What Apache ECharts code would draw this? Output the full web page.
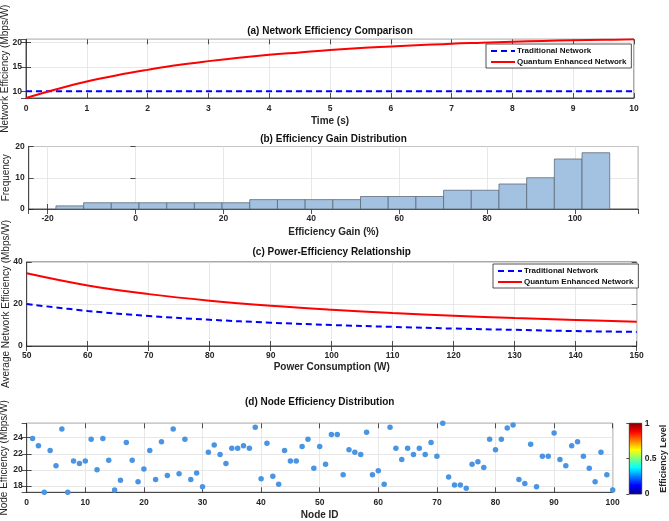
<!DOCTYPE html>
<html>
<head>
<meta charset="utf-8">
<script src="https://cdn.jsdelivr.net/npm/echarts@6/dist/echarts.min.js"></script>
<style>
  html, body { margin: 0; padding: 0; background: #fff; }
  #chart { width: 669px; height: 521px; }
</style>
</head>
<body>
<div id="chart"></div>
<script>
// (a) efficiency over time
var timeS = [0, 0.5, 1, 1.5, 2, 2.5, 3, 3.5, 4, 4.5, 5, 5.5, 6, 6.5, 7, 7.5, 8, 8.5, 9, 9.5, 10];
var tradEffA = [10, 10, 10, 10, 10, 10, 10, 10, 10, 10, 10, 10, 10, 10, 10, 10, 10, 10, 10, 10, 10];
var quantEffA = [8.6, 10.4, 12.0, 13.3, 14.4, 15.4, 16.2, 16.9, 17.5, 18.0, 18.5, 18.9, 19.2, 19.5, 19.8, 20.0, 20.2, 20.35, 20.5, 20.6, 20.7];

// (b) histogram of efficiency gain
var binEdges = [-18.1, -11.8, -5.5, 0.8, 7.1, 13.4, 19.7, 26.0, 32.3, 38.6, 44.9, 51.2, 57.5, 63.8, 70.1, 76.4, 82.7, 89.0, 95.3, 101.6, 107.9];
var binCounts = [1, 2, 2, 2, 2, 2, 2, 3, 3, 3, 3, 4, 4, 4, 6, 6, 8, 10, 16, 18];

// (c) efficiency vs power
var powerW = [50, 60, 70, 80, 90, 100, 110, 120, 130, 140, 150];
var tradEffC = [20.0, 16.7, 14.3, 12.5, 11.1, 10.0, 9.1, 8.3, 7.7, 7.1, 6.7];
var quantEffC = [34.6, 28.8, 24.7, 21.6, 19.2, 17.3, 15.7, 14.4, 13.3, 12.4, 11.5];

// (d) node efficiency
var nodeIds = [1, 2, 3, 4, 5, 6, 7, 8, 9, 10, 11, 12, 13, 14, 15, 16, 17, 18, 19, 20,
  21, 22, 23, 24, 25, 26, 27, 28, 29, 30, 31, 32, 33, 34, 35, 36, 37, 38, 39, 40,
  41, 42, 43, 44, 45, 46, 47, 48, 49, 50, 51, 52, 53, 54, 55, 56, 57, 58, 59, 60,
  61, 62, 63, 64, 65, 66, 67, 68, 69, 70, 71, 72, 73, 74, 75, 76, 77, 78, 79, 80,
  81, 82, 83, 84, 85, 86, 87, 88, 89, 90, 91, 92, 93, 94, 95, 96, 97, 98, 99, 100];
var nodeEff = [23.9, 23.0, 17.2, 22.4, 20.5, 25.1, 17.2, 21.1, 20.8, 21.1,
  23.8, 20.0, 23.9, 21.2, 17.5, 18.7, 23.4, 21.2, 18.5, 20.1,
  22.4, 18.8, 23.5, 19.3, 25.1, 19.5, 23.8, 18.8, 19.6, 17.9,
  22.2, 23.1, 21.9, 20.8, 22.7, 22.7, 23.0, 22.7, 25.3, 18.9,
  23.3, 19.2, 18.2, 22.4, 21.1, 21.1, 22.9, 23.8, 20.2, 22.9,
  20.7, 24.4, 24.4, 19.4, 22.5, 22.2, 21.9, 24.7, 19.4, 19.9,
  18.2, 25.3, 22.7, 21.3, 22.7, 21.9, 22.7, 21.9, 23.4, 21.7,
  25.8, 19.1, 18.1, 18.1, 17.7, 20.7, 21.0, 20.3, 23.8, 22.5,
  23.8, 25.2, 25.6, 18.8, 18.3, 23.2, 17.9, 21.7, 21.7, 24.6,
  21.3, 20.5, 23.0, 23.5, 21.7, 20.2, 18.5, 22.2, 19.4, 17.5];

var FONT = '"Liberation Sans", Arial, sans-serif';
var INK = '#262626';
var GRIDC = '#e2e2e2';

function pairs(xs, ys) {
  return xs.map(function (x, i) { return [x, ys[i]]; });
}

function onlyMultiples(step) {
  return function (v) {
    var r = Math.round(v / step) * step;
    return Math.abs(v - r) < 1e-6 ? String(r) : '';
  };
}

function tickLabel(margin, extra) {
  return Object.assign({ color: INK, fontFamily: FONT, fontSize: 8.5, fontWeight: 'bold', margin: margin,
    showMinLabel: false, showMaxLabel: false }, extra || {});
}

function xAxis(gi, o) {
  return Object.assign({
    type: 'value', gridIndex: gi, position: 'bottom',
    axisLine: { show: true, onZero: false, lineStyle: { color: INK, width: 0.8 } },
    axisTick: { show: true, inside: true, length: 5, lineStyle: { color: INK, width: 0.8 } },
    axisLabel: tickLabel(6),
    splitLine: { show: true, lineStyle: { color: GRIDC, width: 0.8 } },
    nameLocation: 'middle', nameMoveOverlap: false,
    nameTextStyle: { color: INK, fontFamily: FONT, fontSize: 10, fontWeight: 'bold' }
  }, o);
}

function yAxis(gi, o) {
  return Object.assign({
    type: 'value', gridIndex: gi, position: 'left',
    axisLine: { show: true, onZero: false, lineStyle: { color: INK, width: 0.8 } },
    axisTick: { show: true, inside: true, length: 5, lineStyle: { color: INK, width: 0.8 } },
    axisLabel: tickLabel(4),
    splitLine: { show: true, lineStyle: { color: GRIDC, width: 0.8 } },
    nameLocation: 'middle', nameRotate: 90, nameMoveOverlap: false,
    nameTextStyle: { color: INK, fontFamily: FONT, fontSize: 10 }
  }, o);
}

// tick-only copies on top / right to close the box like the original
function xMirror(gi, o) {
  return Object.assign({
    type: 'value', gridIndex: gi, position: 'top',
    axisLine: { show: false }, axisLabel: { show: false }, splitLine: { show: false },
    axisTick: { show: true, inside: true, length: 5, lineStyle: { color: INK, width: 0.8 } }
  }, o);
}
function yMirror(gi, o) {
  return Object.assign({
    type: 'value', gridIndex: gi, position: 'right',
    axisLine: { show: false }, axisLabel: { show: false }, splitLine: { show: false },
    axisTick: { show: true, inside: true, length: 5, lineStyle: { color: INK, width: 0.8 } }
  }, o);
}

var yMinA = Math.min.apply(null, quantEffA.concat(tradEffA));
var yMaxA = Math.max.apply(null, quantEffA.concat(tradEffA));
var xMinB = -24.3, xMaxB = 114.4;
var yMinD = Math.min.apply(null, nodeEff);
var yMaxD = Math.max.apply(null, nodeEff);

function boxGrid(left, top, width, height) {
  return { left: left, top: top, width: width, height: height, show: true,
    outerBoundsMode: 'none', containLabel: false,
    borderColor: INK, borderWidth: 0.8, backgroundColor: '#fff' };
}

var titleStyle = { color: '#111', fontFamily: FONT, fontSize: 10, fontWeight: 'bold' };
var legendBase = {
  orient: 'vertical', itemWidth: 24, itemHeight: 8, itemGap: 3,
  padding: [3, 5, 2, 4], borderColor: INK, borderWidth: 0.8, backgroundColor: '#fff',
  itemStyle: { opacity: 0 },
  textStyle: { color: '#111', fontFamily: FONT, fontSize: 8, fontWeight: 'bold', padding: [0, 0, 0, -3] },
  data: ['Traditional Network', 'Quantum Enhanced Network']
};

var jet = new echarts.graphic.LinearGradient(0, 0, 0, 1, [
  { offset: 0, color: '#800000' },
  { offset: 0.125, color: '#ff0000' },
  { offset: 0.375, color: '#ffff00' },
  { offset: 0.625, color: '#00ffff' },
  { offset: 0.875, color: '#0000ff' },
  { offset: 1, color: '#00008f' }
]);

var chart = echarts.init(document.getElementById('chart'), null, { renderer: 'canvas' });

var option = {
  backgroundColor: '#fff',
  animation: false,
  title: [
    { text: '(a) Network Efficiency Comparison', left: 330, top: 26, textAlign: 'center', padding: 0, textStyle: titleStyle },
    { text: '(b) Efficiency Gain Distribution', left: 333.5, top: 134, textAlign: 'center', padding: 0, textStyle: titleStyle },
    { text: '(c) Power-Efficiency Relationship', left: 331.7, top: 247, textAlign: 'center', padding: 0, textStyle: titleStyle },
    { text: '(d) Node Efficiency Distribution', left: 319.7, top: 397, textAlign: 'center', padding: 0, textStyle: titleStyle }
  ],
  legend: [
    Object.assign({}, legendBase, { left: 486, top: 44 }),
    Object.assign({}, legendBase, { left: 493, top: 264 })
  ],
  grid: [
    boxGrid(26, 39.3, 608, 58.7),
    boxGrid(28.7, 146.5, 609.6, 62.5),
    boxGrid(26.7, 262, 610, 84),
    boxGrid(26.7, 423.3, 586, 69),
    { left: 629.3, top: 423.3, width: 12.4, height: 70.7, show: true,
      outerBoundsMode: 'none', containLabel: false,
      borderColor: INK, borderWidth: 0.8, backgroundColor: jet }
  ],
  xAxis: [
    xAxis(0, { min: 0, max: 10, interval: 1, name: 'Time (s)', nameGap: 18,
      axisLabel: tickLabel(6, { showMinLabel: true, showMaxLabel: true }) }),
    xAxis(1, { min: xMinB, max: xMaxB, splitNumber: 7, name: 'Efficiency Gain (%)', nameGap: 18.5,
      axisLabel: tickLabel(5.5, { formatter: onlyMultiples(20) }) }),
    xAxis(2, { min: 50, max: 150, interval: 10, name: 'Power Consumption (W)', nameGap: 16,
      axisLabel: tickLabel(5, { showMinLabel: true, showMaxLabel: true }) }),
    xAxis(3, { min: 0, max: 100, interval: 10, name: 'Node ID', nameGap: 18,
      axisLabel: tickLabel(6, { showMinLabel: true, showMaxLabel: true }) }),
    { type: 'value', gridIndex: 4, min: 0, max: 1, show: false },
    xMirror(0, { min: 0, max: 10, interval: 1 }),
    xMirror(1, { min: xMinB, max: xMaxB, splitNumber: 7 }),
    xMirror(2, { min: 50, max: 150, interval: 10 }),
    xMirror(3, { min: 0, max: 100, interval: 10 })
  ],
  yAxis: [
    yAxis(0, { min: yMinA, max: yMaxA, splitNumber: 3, name: 'Network Efficiency (Mbps/W)', nameGap: 16,
      axisLabel: tickLabel(4, { formatter: onlyMultiples(5) }) }),
    yAxis(1, { min: 0, max: 20, interval: 10, name: 'Frequency', nameGap: 17,
      axisLabel: tickLabel(4, { showMinLabel: true, showMaxLabel: true }) }),
    yAxis(2, { min: 0, max: 40, interval: 20, name: 'Average Network Efficiency (Mbps/W)', nameGap: 15,
      axisLabel: tickLabel(4, { showMinLabel: true, showMaxLabel: true }) }),
    yAxis(3, { min: yMinD, max: yMaxD, splitNumber: 4, name: 'Node Efficiency (Mbps/W)', nameGap: 17,
      axisLabel: tickLabel(4, { formatter: onlyMultiples(2) }) }),
    { type: 'value', gridIndex: 4, position: 'right', min: 0, max: 1, interval: 0.5,
      axisLine: { show: false }, splitLine: { show: false },
      axisTick: { show: true, inside: true, length: 3, lineStyle: { color: INK, width: 0.8 } },
      axisLabel: tickLabel(3, { showMinLabel: true, showMaxLabel: true }),
      name: 'Efficiency Level', nameLocation: 'middle', nameRotate: 90, nameGap: 17, nameMoveOverlap: false,
      nameTextStyle: { color: INK, fontFamily: FONT, fontSize: 9, fontWeight: 'bold' } },
    yMirror(0, { min: yMinA, max: yMaxA, splitNumber: 3 }),
    yMirror(1, { min: 0, max: 20, interval: 10 }),
    yMirror(2, { min: 0, max: 40, interval: 20 }),
    yMirror(3, { min: yMinD, max: yMaxD, splitNumber: 4 })
  ],
  series: [
    { name: 'Traditional Network', type: 'line', xAxisIndex: 0, yAxisIndex: 0,
      data: pairs(timeS, tradEffA), symbol: 'none',
      lineStyle: { color: '#0000ff', width: 2, type: [6, 4] }, itemStyle: { color: '#0000ff' } },
    { name: 'Quantum Enhanced Network', type: 'line', xAxisIndex: 0, yAxisIndex: 0,
      data: pairs(timeS, quantEffA), symbol: 'none', smooth: 0.4,
      lineStyle: { color: '#ff0000', width: 2 }, itemStyle: { color: '#ff0000' } },
    { name: 'gain', type: 'custom', xAxisIndex: 1, yAxisIndex: 1,
      data: binCounts.map(function (c, i) { return [binEdges[i], binEdges[i + 1], c]; }),
      encode: { x: [0, 1], y: 2 },
      renderItem: function (params, api) {
        var p0 = api.coord([api.value(0), api.value(2)]);
        var p1 = api.coord([api.value(1), 0]);
        return { type: 'rect',
          shape: { x: p0[0], y: p0[1], width: p1[0] - p0[0], height: p1[1] - p0[1] },
          style: { fill: '#a3c1e0', stroke: '#5d6b7a', lineWidth: 0.8 } };
      } },
    { name: 'Traditional Network', type: 'line', xAxisIndex: 2, yAxisIndex: 2,
      data: pairs(powerW, tradEffC), symbol: 'none', smooth: 0.4,
      lineStyle: { color: '#0000ff', width: 2, type: [6, 4] }, itemStyle: { color: '#0000ff' } },
    { name: 'Quantum Enhanced Network', type: 'line', xAxisIndex: 2, yAxisIndex: 2,
      data: pairs(powerW, quantEffC), symbol: 'none', smooth: 0.4,
      lineStyle: { color: '#ff0000', width: 2 }, itemStyle: { color: '#ff0000' } },
    { name: 'nodes', type: 'scatter', xAxisIndex: 3, yAxisIndex: 3,
      data: pairs(nodeIds, nodeEff), symbolSize: 5.5, clip: false,
      itemStyle: { color: '#4a94e4', opacity: 1 } }
  ]
};

chart.setOption(option);
</script>
</body>
</html>
